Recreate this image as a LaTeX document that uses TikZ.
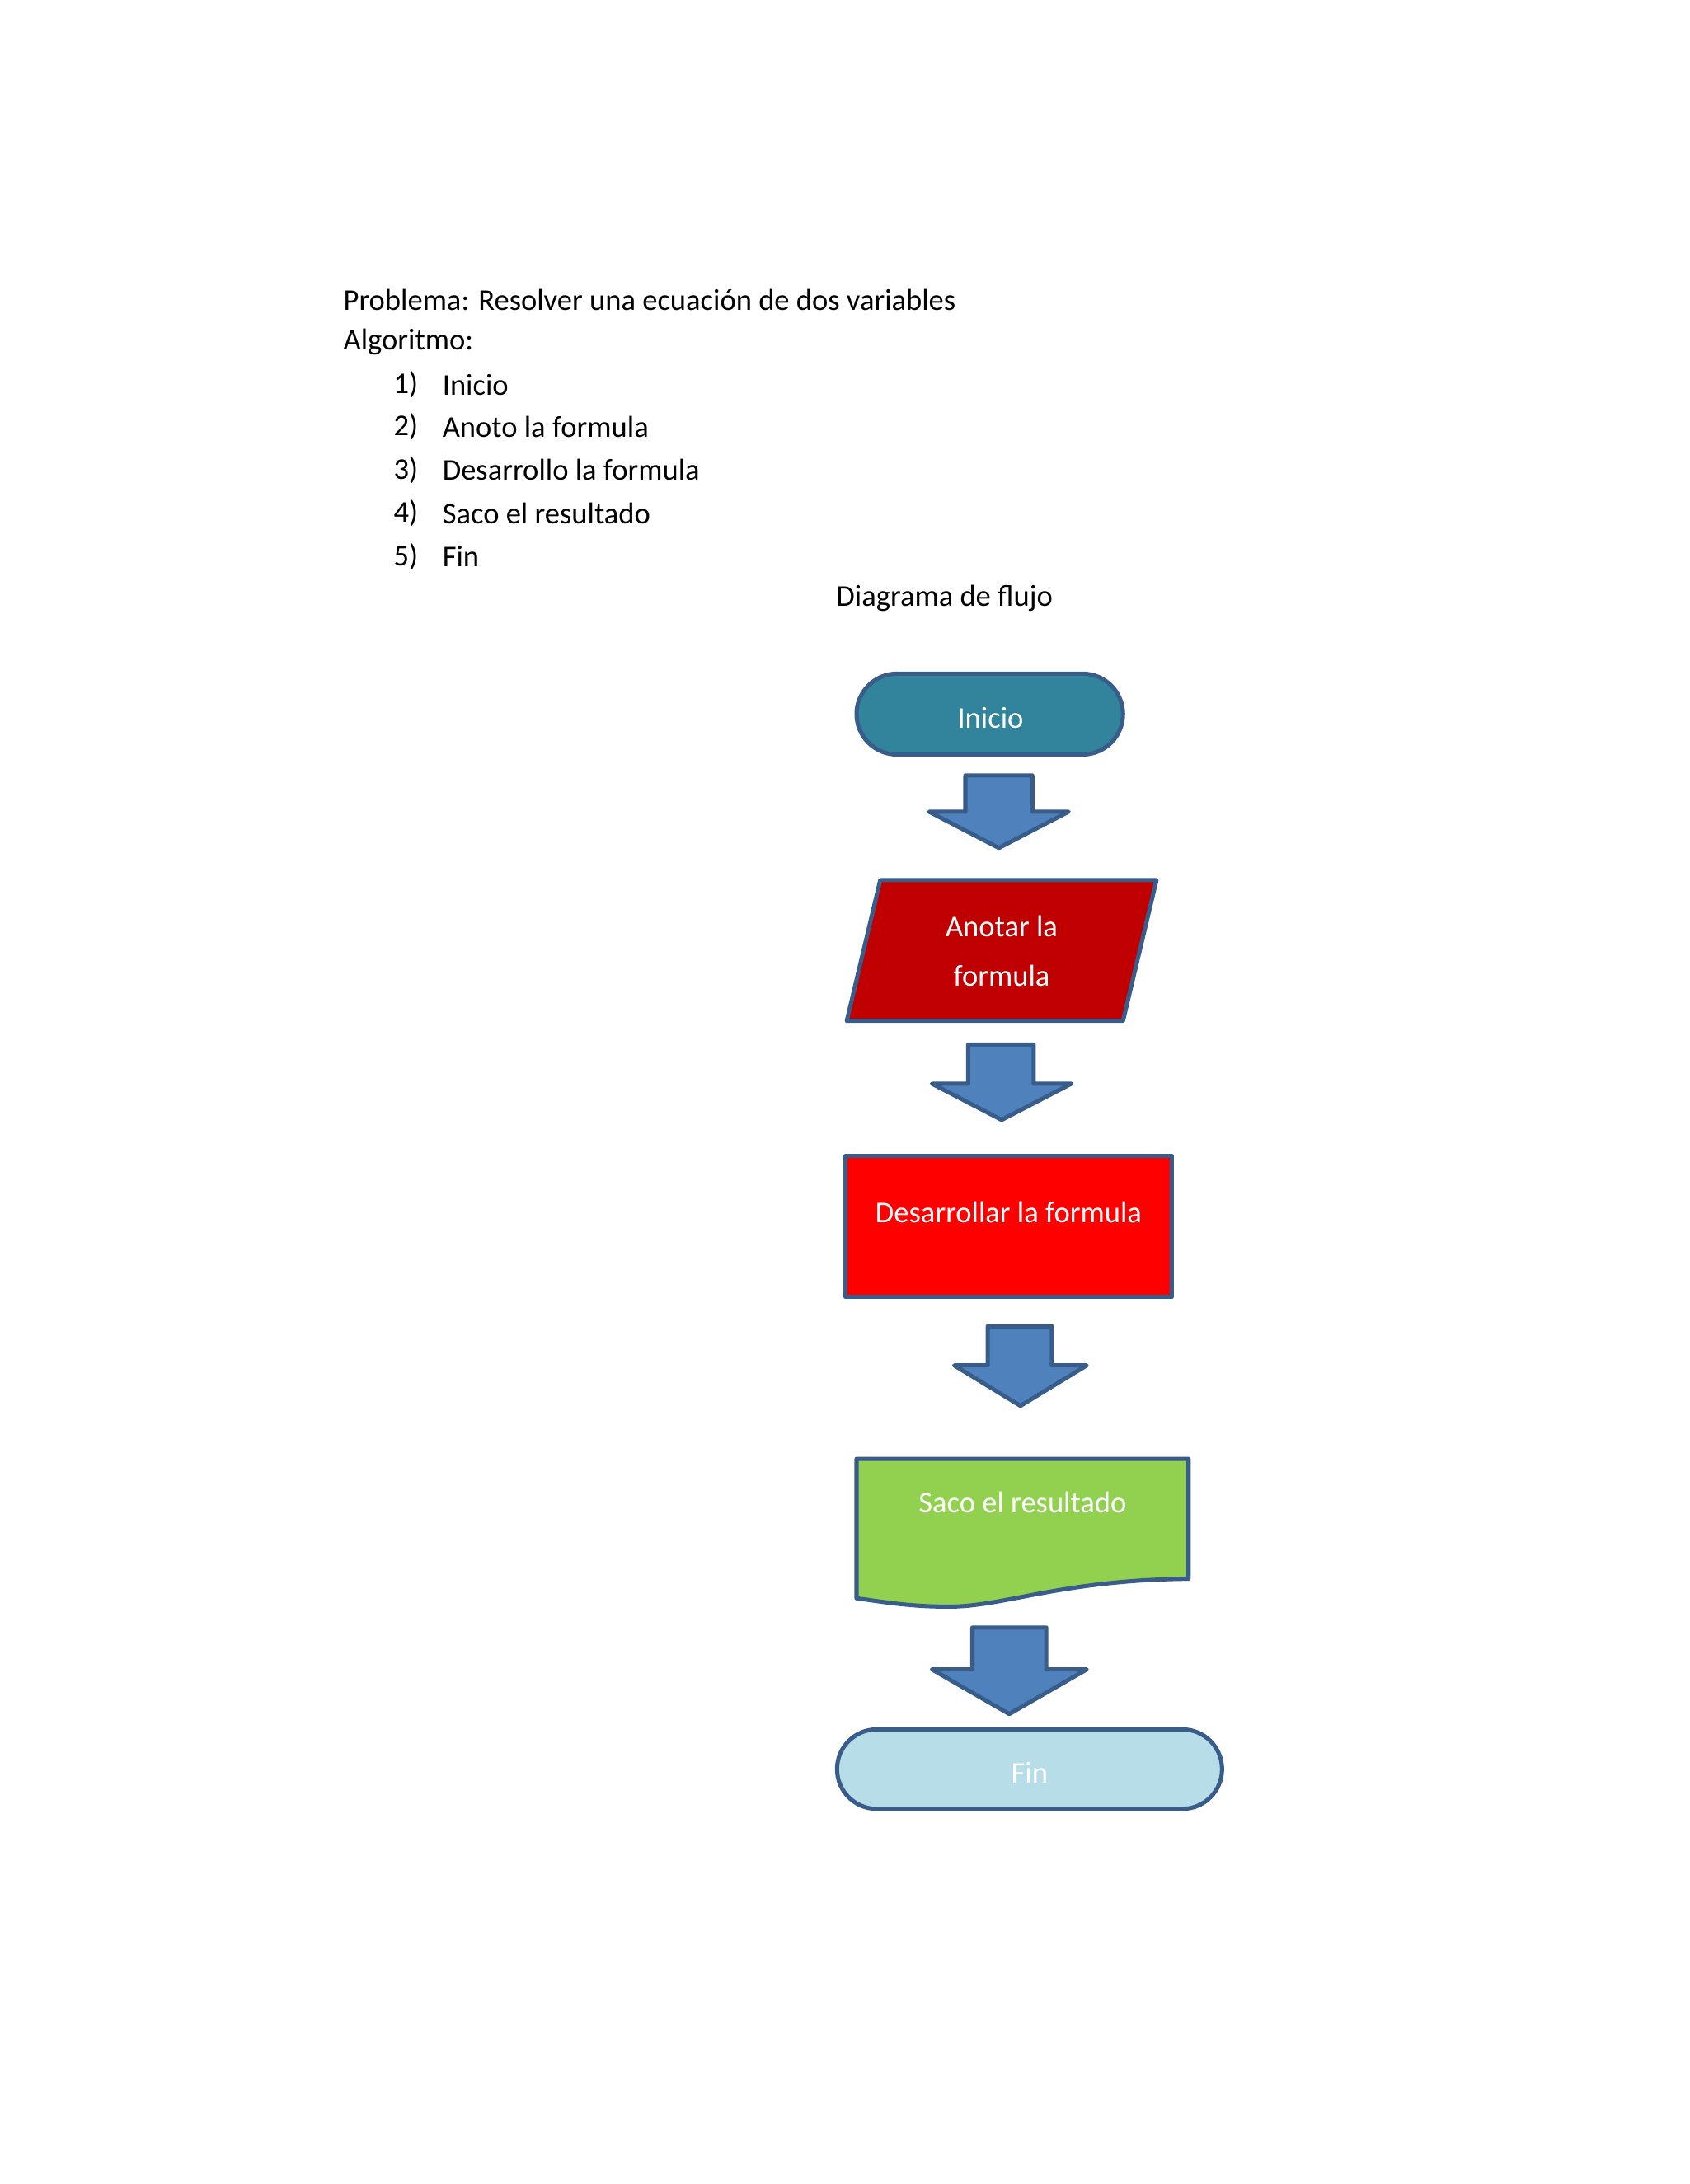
\documentclass[tikz,border=0pt]{standalone}
\usepackage{fontspec}
\setmainfont{Carlito}
\usepackage{tikz}
\definecolor{edge}{HTML}{385D8A}
\definecolor{arrowblue}{HTML}{4F81BD}
\definecolor{tealbox}{HTML}{31849B}
\definecolor{darkred}{HTML}{C00000}
\definecolor{lime}{HTML}{92D050}
\definecolor{pale}{HTML}{B7DDE8}
\newcommand{\blockarrow}[6]{% shaft left, shaft right, top, neck, head left, head right, tip y
\filldraw [box] (#1,#3) -- (#2,#3) -- (#2,#4) -- (#6,#4) -- ({(#5+#6)/2},\tipy) -- (#5,#4) -- (#1,#4) -- cycle;}
\begin{document}
\begin{tikzpicture}[x=0.02cm,y=-0.02cm]
\tikzstyle{every node}=[font=\fontsize{12.3}{14}\selectfont]
\tikzstyle{box}=[draw=edge,line width=1.7pt,line join=round,fill=arrowblue]
\tikzstyle{boxtext}=[text=white,align=center]
\useasboundingbox (0,0) rectangle (1211,1566);
% text
\node [anchor=west] (prob) at (240,215) {Problema: Resolver una ecuación de dos variables};
\node [anchor=west] (alg) at (240,245) {Algoritmo:};
\foreach \n/\t/\y in {1/Inicio/276,2/Anoto la formula/306,3/Desarrollo la formula/337,4/Saco el resultado/368,5/Fin/399}
{\node [anchor=west] (num\n) at (276,\y) {\n)};
\node [anchor=west] (item\n) at (311,\y) {\t};}
\node (titulo) at (677,429) {Diagrama de flujo};
% shapes
\draw [box,fill=tealbox,rounded corners=0.58cm] (614,483) rectangle (805,541);
\node [boxtext] (inicio) at (710,515) {Inicio};
\draw [box,fill=darkred] (631,631) -- (829,631) -- (805,732) -- (607,732) -- cycle;
\node [boxtext] (anotar) at (718,682) {Anotar la\\[6pt]formula};
\draw [box,fill=red] (606,829) rectangle (840,930);
\node [boxtext] (desarrollar) at (723,869) {Desarrollar la formula};
\draw [box,fill=lime] (614,1046) -- (852,1046) -- (852,1132)
  .. controls (760,1133) and (720,1152) .. (680,1152)
  .. controls (650,1152) and (630,1148) .. (614,1146) -- cycle;
\node [boxtext] (saco) at (733,1077) {Saco el resultado};
\draw [box,fill=pale,rounded corners=0.57cm] (600,1240) rectangle (876,1297);
\node [boxtext] (fin) at (738,1271) {Fin};
% arrows
\def\tipy{608}\blockarrow{692}{740}{556}{582}{666}{766}
\def\tipy{803}\blockarrow{694}{741}{749}{777}{668}{768}
\def\tipy{1008}\blockarrow{708}{754}{951}{979}{684}{779}
\def\tipy{1229}\blockarrow{697}{750}{1167}{1197}{668}{779}
\end{tikzpicture}
\end{document}
